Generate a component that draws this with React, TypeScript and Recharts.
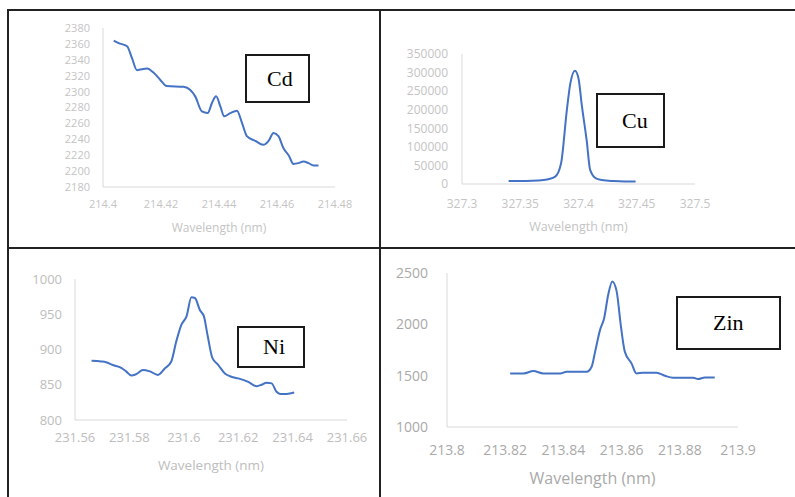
import { LineChart, Line, XAxis, YAxis } from "recharts";

// Cd
const cdWave = [214.4037, 214.4054, 214.4083, 214.41, 214.4117, 214.4152, 214.4174, 214.4197, 214.422, 214.4278, 214.4301, 214.4318, 214.4341, 214.4361, 214.4376, 214.439, 214.4405, 214.4418, 214.4439, 214.4462, 214.4479, 214.4496, 214.4525, 214.4553, 214.4571, 214.4588, 214.4605, 214.4622, 214.464, 214.4657, 214.4674, 214.4691, 214.4709, 214.4726, 214.4743];
const cdCounts = [2364, 2361, 2357, 2342, 2327, 2329, 2324, 2315, 2307, 2306, 2302, 2294, 2275, 2273, 2286, 2294, 2281, 2269, 2273, 2276, 2261, 2244, 2238, 2233, 2238, 2248, 2244, 2229, 2220, 2209, 2210, 2212, 2210, 2207, 2207];
const cdXTicks = [214.4, 214.42, 214.44, 214.46, 214.48];
const cdYTicks = [2180, 2200, 2220, 2240, 2260, 2280, 2300, 2320, 2340, 2360, 2380];

// Cu
const cuWave = [327.34, 327.35, 327.36, 327.37, 327.38, 327.385, 327.39, 327.393, 327.397, 327.4, 327.403, 327.407, 327.41, 327.415, 327.42, 327.43, 327.44, 327.449];
const cuCounts = [8000, 8000, 8500, 10500, 20000, 55000, 199000, 271000, 305000, 284000, 208000, 118000, 38000, 15000, 11000, 8000, 7000, 7000];
const cuXTicks = [327.3, 327.35, 327.4, 327.45, 327.5];
const cuYTicks = [0, 50000, 100000, 150000, 200000, 250000, 300000, 350000];

// Ni
const niWave = [231.5661, 231.5696, 231.5714, 231.5739, 231.577, 231.5788, 231.5807, 231.5825, 231.585, 231.5875, 231.5905, 231.593, 231.5954, 231.5972, 231.5991, 231.601, 231.6028, 231.6041, 231.6059, 231.6074, 231.6087, 231.6105, 231.6127, 231.6151, 231.617, 231.62, 231.6237, 231.6268, 231.6286, 231.6304, 231.6323, 231.6341, 231.6354, 231.6378, 231.6406];
const niCounts = [884, 883, 882, 878, 874, 869, 863, 865, 871, 869, 864, 873, 883, 911, 935, 947, 974, 973, 956, 947, 921, 888, 878, 866, 862, 859, 854, 848, 850, 853, 852, 840, 837, 837, 839];
const niXTicks = [231.56, 231.58, 231.6, 231.62, 231.64, 231.66];
const niYTicks = [800, 850, 900, 950, 1000];

// Zn
const znWave = [213.8217, 213.8263, 213.8297, 213.8331, 213.8389, 213.8411, 213.848, 213.8497, 213.8509, 213.8526, 213.854, 213.8554, 213.8568, 213.8583, 213.8597, 213.8611, 213.8634, 213.8651, 213.8674, 213.872, 213.8749, 213.8777, 213.8846, 213.8863, 213.8886, 213.892];
const znCounts = [1522, 1522, 1545, 1522, 1522, 1538, 1538, 1587, 1734, 1946, 2060, 2288, 2418, 2321, 1995, 1734, 1620, 1522, 1529, 1529, 1499, 1480, 1480, 1467, 1483, 1483];
const znXTicks = [213.8, 213.82, 213.84, 213.86, 213.88, 213.9];
const znYTicks = [1000, 1500, 2000, 2500];

const toRows = (xs: number[], ys: number[]) => xs.map((x, i) => ({ x, y: ys[i] }));

interface PanelProps {
  box: { x: number; y: number; w: number; h: number };
  plot: { l: number; t: number; r: number; b: number };
  data: { x: number; y: number }[];
  xTicks: number[];
  yTicks: number[];
  tickSize: number;
  titleSize: number;
  textColor: string;
  yGap: number;
  xGap: number;
  titleY: number;
  name: string;
  label: { l: number; t: number; w: number; h: number; pad: number; size: number };
}

function Panel(p: PanelProps) {
  const yW = 70;
  const xH = 30;
  const margin = {
    left: p.plot.l - p.box.x - yW,
    top: p.plot.t - p.box.y,
    right: p.box.x + p.box.w - p.plot.r,
    bottom: p.box.y + p.box.h - p.plot.b - xH,
  };
  const tick = { fill: p.textColor, fontSize: p.tickSize, fontFamily: "Open Sans" };
  return (
    <>
      <div style={{ position: "absolute", left: p.box.x, top: p.box.y }}>
        <LineChart width={p.box.w} height={p.box.h} data={p.data} margin={margin}>
          <XAxis
            dataKey="x"
            type="number"
            domain={[p.xTicks[0], p.xTicks[p.xTicks.length - 1]]}
            ticks={p.xTicks}
            interval={0}
            height={xH}
            tickLine={false}
            tickSize={0}
            tickMargin={p.xGap}
            axisLine={{ stroke: "#d9d9d9" }}
            tick={tick}
          />
          <YAxis
            type="number"
            domain={[p.yTicks[0], p.yTicks[p.yTicks.length - 1]]}
            ticks={p.yTicks}
            interval={0}
            width={yW}
            tickLine={false}
            tickSize={0}
            tickMargin={p.yGap}
            axisLine={{ stroke: "#d9d9d9" }}
            tick={tick}
          />
          <Line
            dataKey="y"
            type="monotone"
            stroke="#4472C4"
            strokeWidth={2}
            dot={false}
            isAnimationActive={false}
          />
        </LineChart>
      </div>
      <div
        style={{
          position: "absolute",
          left: p.plot.l,
          width: p.plot.r - p.plot.l,
          top: p.titleY - p.titleSize * 0.7,
          textAlign: "center",
          fontFamily: "Open Sans",
          fontSize: p.titleSize,
          color: p.textColor,
          lineHeight: `${p.titleSize * 1.4}px`,
        }}
      >
        Wavelength (nm)
      </div>
      <div
        style={{
          position: "absolute",
          left: p.label.l,
          top: p.label.t,
          width: p.label.w,
          height: p.label.h,
          boxSizing: "border-box",
          border: "2px solid #1a1a1a",
          background: "#fff",
          display: "flex",
          alignItems: "center",
          paddingLeft: p.label.pad,
          fontFamily: "Liberation Serif",
          fontSize: p.label.size,
          color: "#000",
        }}
      >
        {p.name}
      </div>
    </>
  );
}

export default function App() {
  const line = { position: "absolute" as const, background: "#222" };
  return (
    <div style={{ position: "absolute", left: 0, top: 0, width: 795, height: 497, overflow: "hidden", background: "#fff" }}>
      <div style={{ ...line, left: 7, top: 9, width: 800, height: 2 }} />
      <div style={{ ...line, left: 7, top: 9, width: 2, height: 500 }} />
      <div style={{ ...line, left: 379, top: 9, width: 2, height: 500 }} />
      <div style={{ ...line, left: 7, top: 247, width: 800, height: 2 }} />

      <Panel
        box={{ x: 10, y: 12, w: 368, h: 234 }}
        plot={{ l: 103, t: 28, r: 335, b: 187 }}
        data={toRows(cdWave, cdCounts)}
        xTicks={cdXTicks}
        yTicks={cdYTicks}
        tickSize={11}
        titleSize={12}
        textColor="#c4c4c4"
        yGap={13}
        xGap={13}
        titleY={228}
        name="Cd"
        label={{ l: 245, t: 54, w: 65, h: 49, pad: 20, size: 22 }}
      />
      <Panel
        box={{ x: 382, y: 12, w: 412, h: 234 }}
        plot={{ l: 462, t: 54, r: 695, b: 184 }}
        data={toRows(cuWave, cuCounts)}
        xTicks={cuXTicks}
        yTicks={cuYTicks}
        tickSize={12}
        titleSize={12.5}
        textColor="#c4c4c4"
        yGap={14}
        xGap={15}
        titleY={227}
        name="Cu"
        label={{ l: 596, t: 93, w: 69, h: 55, pad: 24, size: 22 }}
      />
      <Panel
        box={{ x: 10, y: 250, w: 368, h: 246 }}
        plot={{ l: 75, t: 279, r: 347, b: 420 }}
        data={toRows(niWave, niCounts)}
        xTicks={niXTicks}
        yTicks={niYTicks}
        tickSize={13}
        titleSize={13.5}
        textColor="#bdbdbd"
        yGap={13}
        xGap={13}
        titleY={465}
        name="Ni"
        label={{ l: 237, t: 326, w: 68, h: 42, pad: 24, size: 22 }}
      />
      <Panel
        box={{ x: 382, y: 250, w: 412, h: 246 }}
        plot={{ l: 447, t: 273, r: 738, b: 427 }}
        data={toRows(znWave, znCounts)}
        xTicks={znXTicks}
        yTicks={znYTicks}
        tickSize={14}
        titleSize={16}
        textColor="#a9a9a9"
        yGap={19}
        xGap={18}
        titleY={478}
        name="Zin"
        label={{ l: 676, t: 296, w: 105, h: 54, pad: 35, size: 22 }}
      />
    </div>
  );
}
